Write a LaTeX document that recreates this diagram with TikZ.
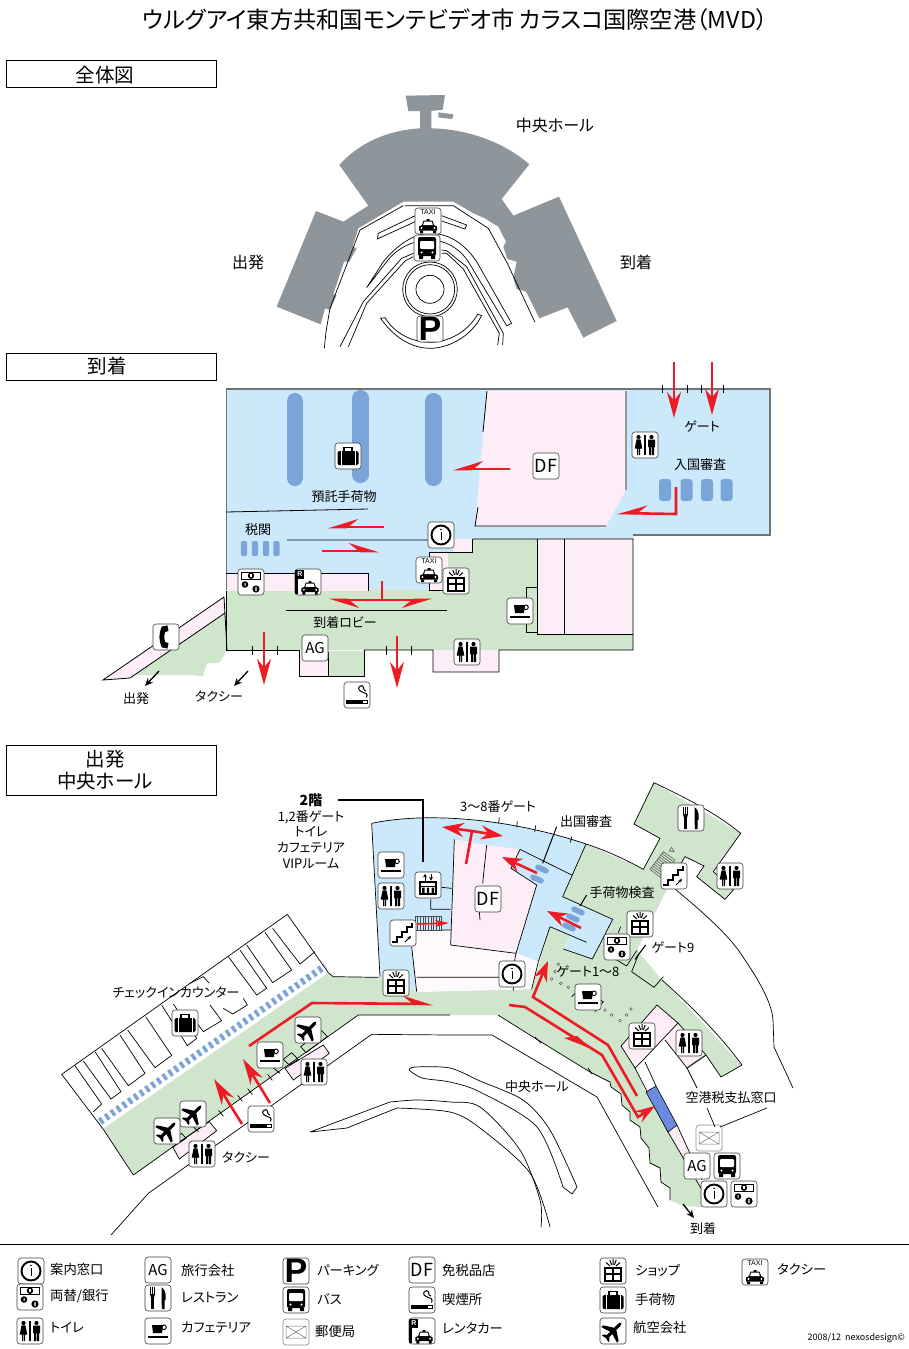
\documentclass[tikz,border=0pt]{standalone}
\usepackage{fontspec}
\setmainfont[RawFeature=+palt]{Noto Sans CJK JP}
\newfontfamily\heros{Liberation Sans}
\usetikzlibrary{arrows.meta,calc}
\definecolor{cblue}{HTML}{CCE9FB}
\definecolor{cgreen}{HTML}{CFE5CC}
\definecolor{cpink}{HTML}{FDEDF6}
\definecolor{cgray}{HTML}{8E959B}
\definecolor{cbar}{HTML}{7BA5D8}
\definecolor{cred}{HTML}{ED1C24}
\definecolor{cedge}{HTML}{6E7478}
\newcount\labn
\newcommand\lab[4][center]{\global\advance\labn by 1
  \node[anchor=#1,inner sep=0pt,align=center,font=\fontsize{#4}{#4}\selectfont] (lab\the\labn) at (#2,#3) {\labtext};}
\newcommand\labtext{}
\newcommand\tx[5][center]{\renewcommand\labtext{#5}\lab[#1]{#2}{#3}{#4}}
\newcommand\ic[3]{\pic at (#2,#3) {ic#1};}
\newcommand\carg{%
  \fill[black] (-9,7)--(-9,3)--(-6,1.5)--(-4.5,-3)--(-1.5,-3)--(-1.5,-4.5)--(1.5,-4.5)--(1.5,-3)--(4.5,-3)--(6,1.5)--(9,3)--(9,7)--cycle;
  \fill[white] (-3.8,-2)--(3.8,-2)--(4.8,1.5)--(-4.8,1.5)--cycle;
  \fill[black] (-8,7) rectangle (-5,9.5) (5,7) rectangle (8,9.5);
  \fill[white] (-6.5,4.5) circle (1.1) (6.5,4.5) circle (1.1);}
\newcommand\boxg{\draw[draw=black!75,line width=.6pt,rounded corners=3pt,fill=white] (-13,-13) rectangle (13,13);}
\tikzset{
  x=1pt,y=-1pt,
  plan/.style={line width=.8pt,draw=black,line join=miter},
  thinl/.style={line width=.7pt,draw=black},
  secbox/.style={draw=black,line width=.7pt,fill=white},
  redl/.style={draw=cred,line width=2.6pt,line join=miter},
  full/.style={-{Stealth[length=#1,width=14pt,inset=.32*#1]}},
  full/.default=26pt,
  halfa/.style={-{Stealth[length=26pt,width=16pt,inset=10pt,harpoon]}},
  halfb/.style={-{Stealth[length=26pt,width=16pt,inset=10pt,harpoon,swap]}},
  zoomed/.style n args={2}{shift={(#1,#2)},x=.33333pt,y=-.33333pt},
  icinfo/.pic={\boxg \draw[line width=1.9pt] (0,0) circle (9.5); \draw[line width=.8pt] (0,-3)--(0,5); \fill (0,-5.5) circle (.8);},
  icmoney/.pic={\boxg \draw[line width=.9pt] (-9.5,-10) rectangle (9.5,-2.5); \fill (0,-6.3) circle (3.2); \fill[white] (-.6,-8) rectangle (.6,-4.6);
    \fill (-6,2.5) circle (3.3) (5,7) circle (3.6); \fill[white] (-6.5,1) rectangle (-5.5,4) (4.4,5) rectangle (5.6,9);},
  ictoilet/.pic={\boxg \fill (-6.5,-8) circle (2.1) (6.5,-8) circle (2.1);
    \fill (-6.5,-5.7)--(-4.5,-5.5)--(-2.7,3.5)--(-5,3.5)--(-5,10)--(-6.2,10)--(-6.2,3.5)--(-6.8,3.5)--(-6.8,10)--(-8,10)--(-8,3.5)--(-10.3,3.5)--(-8.5,-5.5)--cycle;
    \fill (3,-5.5) rectangle (10,2) (4,2) rectangle (6.2,10) (6.8,2) rectangle (9,10);
    \draw[line width=1.3pt] (0,-10)--(0,10);},
  icAG/.pic={\boxg \node[inner sep=0pt,font=\fontsize{15}{15}\selectfont] (agt) at (0,0) {AG};},
  icDF/.pic={\boxg \node[inner sep=0pt,font=\fontsize{18}{18}\selectfont] (dft) at (0,0) {DF};},
  icP/.pic={\boxg \node[inner sep=0pt,font=\heros\bfseries\fontsize{34}{34}\selectfont] (pt) at (0,0) {P};},
  icbus/.pic={\boxg \fill[rounded corners=2pt] (-9,-11) rectangle (9,8); \fill[white,rounded corners=1pt] (-7,-7) rectangle (7,1);
    \fill (-8,8) rectangle (-4,11) (4,8) rectangle (8,11); \fill[white] (-5.5,4.5) circle (1.2) (5.5,4.5) circle (1.2);},
  ictaxi/.pic={\boxg \node[inner sep=0pt,font=\heros\fontsize{7}{7}\selectfont] (tt) at (0,-9) {TAXI}; \begin{scope}[shift={(0,2.5)}]\carg\end{scope}},
  icmail/.pic={\draw[draw=black!45,line width=.6pt,rounded corners=3pt,fill=white] (-13,-13) rectangle (13,13);
    \draw[draw=black!55,line width=.5pt] (-10,-6) rectangle (10,6) (-10,-6)--(0,0)--(10,-6) (-10,6)--(0,0)--(10,6);},
  icfork/.pic={\boxg \draw[line width=1pt] (-7.5,-11)--(-7.5,-3) (-5.5,-11)--(-5.5,-3) (-3.5,-11)--(-3.5,-3);
    \fill (-8,-4)--(-3,-4)--(-4.3,1)--(-6.7,1)--cycle; \fill (-6.7,0) rectangle (-4.3,11);
    \fill (3.5,-11) .. controls (8,-8) and (8,-2) .. (7.5,2) -- (6.5,2) -- (6.5,11) -- (3.8,11) -- cycle;},
  iccup/.pic={\boxg \fill (-6,-6)--(5,-6)--(4,2)--(-5,2)--cycle; \draw[line width=.9pt] (6,-3.7) circle (2.3); \draw[line width=2pt] (-10,5.5)--(10,5.5);},
  icgift/.pic={\boxg \draw[line width=1.2pt] (-8,-3) rectangle (8,10) (-8,3)--(8,3) (0,-3)--(0,10);
    \draw[line width=1pt] (-3,-5)--(-7,-8.5) (-1.3,-6)--(-3.2,-11) (0,-6.5)--(0,-12) (1.3,-6)--(3.2,-11) (3,-5)--(7,-8.5);},
  icluggage/.pic={\boxg \fill[rounded corners=1.5pt] (-10.5,-5) rectangle (10.5,9); \draw[line width=1.4pt] (-4,-5)--(-4,-8.5)--(4,-8.5)--(4,-5);
    \draw[white,line width=.8pt] (-7,-5)--(-7,9) (7,-5)--(7,9);},
  icplane/.pic={\boxg \begin{scope}[rotate=-45]
    \fill (0,-12)--(1.6,-9)--(1.6,-3)--(11,3)--(11,5.5)--(1.6,2.5)--(1.6,7)--(4.5,9.5)--(4.5,11)--(0,10)--(-4.5,11)--(-4.5,9.5)--(-1.6,7)--(-1.6,2.5)--(-11,5.5)--(-11,3)--(-1.6,-3)--(-1.6,-9)--cycle;\end{scope}},
  icsmoke/.pic={\boxg \fill (-11,5) rectangle (5,8.5); \draw[line width=.6pt] (5.5,5) rectangle (10.5,8.5);
    \draw[line width=1pt,rounded corners=1.5pt] (9.5,2.5)--(10.5,-1)--(5,-3)--(1,-5.5)--(3,-9.5)--(7,-9)--(6,-5.5)--(9,-4);},
  icrent/.pic={\boxg \fill (-13,-12) rectangle (-10.5,12); \fill (-12,-12) rectangle (-4,-3); \node[inner sep=0pt,text=white,font=\heros\bfseries\fontsize{7}{7}\selectfont] (rt) at (-8,-7.5) {R};
    \begin{scope}[shift={(2,3.5)},scale=.95]\carg\end{scope}},
  icstairs/.pic={\boxg \draw[line width=2pt] (-11,9)--(-6,9)--(-6,4)--(-1,4)--(-1,-1)--(4,-1)--(4,-6)--(9,-6)--(9,-10);
    \draw[line width=.9pt,-{Stealth[length=3.5pt,width=3.5pt]}] (2,9)--(8,3);},
  icphone/.pic={\boxg \fill (-4,-10.5)--(1.5,-11.5)--(2.5,-6)--(-1,-5) .. controls (-2,-1.5) and (-2,1.5) .. (-1,5)--(2.5,6)--(1.5,11.5)--(-4,10.5) .. controls (-7.5,3.5) and (-7.5,-3.5) .. cycle;},
  icelev/.pic={\boxg \draw[line width=1pt,-{Stealth[length=3.5pt,width=4pt]}] (-3,-4.5)--(-3,-11); \draw[line width=1pt,-{Stealth[length=3.5pt,width=4pt]}] (3,-11)--(3,-4.5);
    \draw[line width=1.2pt] (-8,-3) rectangle (8,9); \draw[line width=1pt] (-8,1)--(8,1); \fill (-6,2.5) rectangle (-3.5,8) (-1.2,2.5) rectangle (1.2,8) (3.5,2.5) rectangle (6,8);},
}
\begin{document}
\begin{tikzpicture}[x=1pt,y=-1pt]
\useasboundingbox (0,0) rectangle (909,1349);
\fill[white] (0,0) rectangle (909,1349);
% title
\tx{455}{20}{23.2}{ウルグアイ東方共和国モンテビデオ市 カラスコ国際空港（MVD）}
\draw[secbox] (6,60) rectangle (216,87); \tx{105}{75}{19.5}{全体図}
\draw[secbox] (6,353) rectangle (216,380); \tx{107}{366}{19.5}{到着}
\draw[secbox] (6,745) rectangle (216,795); \tx{105}{770}{19.5}{出発\\[3pt]中央ホール}

% ------ overview
\begin{scope}[zoomed={220}{85}]
\fill[cgray] (557,32)--(675,30)--(668,74)--(634,78)--(634,130)
 .. controls (740,132) and (850,170) .. (928,238)
 --(845,342)--(880,392)--(1017,335)--(1190,708)--(1090,758)--(1043,667)--(958,700)--(918,620)--(890,612)--(880,580)--(890,530)--(862,522)--(850,485)--(858,470)--(835,425)--(810,410)--(795,400)--(760,385)--(735,370)--(700,350)--(550,350)--(415,430)--(398,485)--(410,490)--(388,530)--(372,530)--(340,628)--(350,630)--(330,675)--(315,670)--(302,718)--(170,665)--(288,378)--(370,410)--(445,362)--(358,240)
 .. controls (420,170) and (510,135) .. (600,130)--(600,78)--(565,78)--cycle;
\fill[cgray] (655,82)--(700,88)--(697,102)--(655,97)--cycle;
\draw[thinl] (555,362)--(700,362)--(805,430)--(862,535)--(945,712);
\draw[thinl] (550,362)--(420,435)--(330,670)--(318,740)--(313,790);
\draw[thinl] (590,390)--(475,445)--(472,462)--(590,408);
\draw[thinl] (665,392)--(740,420)--(735,432)--(665,408);
\draw[thinl] (440,608)--(490,530)  .. controls (540,470) and (590,445) .. (630,445) .. controls (680,445) and (730,470) .. (770,530)--(875,715)--(860,722)--(745,530) .. controls (715,485) and (670,465) .. (630,465) .. controls (580,465) and (530,490) .. (500,530)--cycle;
\draw[thinl] (580,505)--(545,520)--(430,650)--(360,785);
\draw[thinl] (580,515)--(555,528)--(440,655)--(385,785);
\draw[thinl] (665,495)--(680,497)--(740,545)--(850,745)--(848,780);
\draw[thinl] (665,505)--(680,505)--(730,552)--(838,745)--(833,780);
\draw[thinl] (630,613) circle (82) (630,613) circle (74) (630,613) circle (42);
\draw[thinl] (482,700) .. controls (530,770) and (590,790) .. (630,790) .. controls (680,790) and (750,760) .. (785,692)--(773,688) .. controls (740,745) and (680,772) .. (630,772) .. controls (590,772) and (530,755) .. (495,698)--cycle;
\end{scope}
\ic{taxi}{428}{221}\ic{bus}{427}{248}\ic{P}{430}{329}
\tx{555}{125}{16}{中央ホール}\tx{248}{262}{16}{出発}\tx{636}{262}{16}{到着}

% ------ arrivals
\fill[cblue] (226,389)--(770,389)--(770,535)--(633,536)--(633,539)--(473,539)--(473,600)--(226,600)--cycle;
\fill[cpink] (487,391)--(626,391)--(626,490)--(606,526)--(475,526)--cycle;
\fill[cpink] (226,573) rectangle (368,591);
\fill[cgreen] (226,591)--(368,591)--(368,590)--(429,590)--(429,552)--(472,552)--(472,539)--(633,539)--(633,650)--(226,650)--cycle;
\fill[cgreen] (224,613)--(133,675)--(189,675)--(203,676)--(207,663)--(219,663)--(227,651)--(227,610)--cycle;
\fill[cpink] (224,597)--(103,680)--(130,678)--(225,613)--cycle;
\fill[cpink] (453,539) rectangle (472,552);
\fill[cpink] (429,552) rectangle (448,590);
\fill[cpink] (537,539) rectangle (633,634);
\fill[cpink] (299,651) rectangle (328,676);
\fill[cgreen] (328,651) rectangle (364,676);
\fill[cpink] (433,650) rectangle (499,672);
\fill[cgreen] (526,587) rectangle (537,632);
\draw[draw=cedge,line width=1.1pt] (226,389)--(770,389)--(770,535)--(633,535);
\draw[draw=cedge,line width=.9pt] (226,389)--(226,590);
\draw[plan] (487,391)--(483,432) (478,507)--(475,526)--(606,526) (626,391)--(626,490);
\draw[plan] (226,512)--(368,509) (287,540)--(428,540) (473,539)--(633,539)--(633,650)--(499,650)--(499,672)--(433,672)--(433,650)--(364,650);
\draw[plan] (286,610)--(447,610);
\draw[plan] (226,573)--(368,573)--(368,591) (226,591)--(226,650)--(299,650)--(299,676)--(364,676)--(364,650);
\draw[plan] (328,652)--(328,676);
\draw[plan] (429,552)--(472,552)--(472,539) (429,552)--(429,590)--(448,590);
\draw[plan] (537,539)--(537,634)--(633,634) (564,539)--(564,634);
\draw[plan] (537,587)--(526,587)--(526,632)--(537,632);
\draw[plan] (224,597)--(103,680)--(130,678)--(225,613) (224,597)--(227,650) ;
\draw[plan] (252,646)--(252,655) (277,646)--(277,655) (386,646)--(386,655) (411,646)--(411,655);
\draw[plan] (662,385)--(662,393) (687,385)--(687,393) (701,385)--(701,393) (723,385)--(723,393);
\foreach \xa/\ya/\yb in {295/393/486,360.5/390/483,433.5/393/486}
  \draw[cbar,line width=16.5pt,line cap=round] (\xa,\ya+8.2)--(\xa,\yb-8.2);
\foreach \xa in {244,255,266,276.5} \fill[cbar,rounded corners=2pt] (\xa-3.2,541) rectangle (\xa+3.2,556);
\foreach \xa in {665,686.5,707,726.5} \fill[cbar,rounded corners=3pt] (\xa-6,479) rectangle (\xa+6,501);
% red arrows arrivals
\draw[redl,full] (674,362)--(674,418);
\draw[redl,full] (712,362)--(712,415);
\draw[redl,halfb] (676,487)--(676,514)--(617,513);
\draw[redl,halfb] (510,469)--(453,469);
\draw[redl,halfb] (384,527)--(328,527);
\draw[redl,halfa] (322,551)--(379,551);
\draw[redl] (382,581)--(382,600);
\draw[redl,halfa] (382,600)--(329,600);
\draw[redl,halfb] (382,600)--(432,600);
\draw[redl,full] (264,632)--(264,685);
\draw[redl,full] (397,636)--(397,688);
\draw[line width=1.3pt,-{Stealth[length=8pt,width=7pt]}] (159,671)--(145,686);
\draw[line width=1.3pt,-{Stealth[length=8pt,width=7pt]}] (248,671)--(234,686);
\ic{luggage}{348}{456}\ic{info}{441}{535}\ic{taxi}{429}{570}\ic{gift}{456}{581}\ic{money}{251}{582}\ic{rent}{308}{582}
\ic{phone}{166}{637}\ic{AG}{315}{648}\ic{toilet}{467}{652}\ic{smoke}{357}{695}\ic{DF}{546}{466}\ic{toilet}{645}{445}\ic{cup}{520}{611}
\tx{702}{426}{13}{ゲート}\tx{700}{465}{13}{入国審査}\tx{344}{497}{13}{預託手荷物}\tx{258}{530}{13}{税関}\tx{345}{623}{13}{到着ロビー}\tx{136}{699}{13}{出発}\tx{219}{696}{13}{タクシー}

% ------ departures
\fill[cgreen] (133,1175)--(103,1129)--(328,973)--(333,977)--(380,977)--(417,992)--(532,989)--(550,927)--(570,935)--(563,949)--(592,959)--(613,919)--(563,897)--(586,844)
  --(643,869)--(660,838)--(634,824)--(654,783)--(741,833)--(713,872)--(733,890)--(725,899)--(697,877)--(704,866)--(685,857)--(668,887)--(637,950)--(662,980)--(742,1065)--(721,1077)--(706,1055)--(687,1068)--(665,1040)--(678,1023)--(657,1005)--(621,1046)--(635,1068)--(646,1092)--(668,1132)--(702,1190)--(702,1207)--(683,1206)--(670,1200)--(670,1188)--(661,1182)--(660,1168)--(650,1163)--(649,1148)--(641,1138)--(640,1127)--(630,1120)--(630,1112)--(622,1105)--(621,1094)--(611,1087)--(610,1082)--(590,1072)--(538,1040)--(498,1015)--(358,1015)--cycle;
\fill[cpink] (657,1005)--(678,1023)--(645,1058)--(635,1068)--(621,1046)--cycle;
\fill[cpink] (665,1040)--(678,1023)--(706,1055)--(687,1068)--cycle;
\fill[cpink] (668,1132)--(677,1125)--(702,1187)--(702,1190)--cycle;
\fill[cpink] (173,1148)--(209,1122)--(217,1131)--(179,1158)--cycle;
\fill[cpink] (285,1068)--(323,1045)--(329,1053)--(293,1080)--cycle;
\begin{scope}[zoomed={360}{780}]
\fill[cblue] (35,130) .. controls (200,95) and (450,115) .. (678,192)--(608,350)--(758,418)--(697,537)--(610,507)--(630,465)--(570,440)--(535,545)--(468,520)--(272,495)--(270,450)--(165,450)--(155,500)--(170,635)--(60,590)--cycle;
\fill[cpink] (283,178)--(380,195)--(480,208)--(453,265)--(530,315)--(468,520)--(272,495)--cycle;
\fill[cpink!35] (165,450)--(270,450)--(272,495)--(468,520)--(535,545)--(515,628)--(170,635)--(155,500)--cycle;
\draw[thinl] (35,130)--(60,590);
\draw[thinl] (35,130) .. controls (200,95) and (450,115) .. (678,192) .. controls (740,212) and (800,240) .. (850,268);
\draw[thinl] (155,500)--(170,635) (170,592)--(420,592);
\draw[thinl] (283,178)--(272,495)--(468,520)--(530,315)--(453,265)--(480,208)--(635,285);
\draw[thinl] (380,195)--(368,310) (358,395)--(360,420);
\draw[thinl] (245,322)--(275,325) (212,358)--(212,388)--(272,388) (245,450)--(272,450);
\draw[thinl] (468,520)--(463,545) (460,620)--(460,632);
\draw[thinl] (678,192)--(608,350)--(758,418)--(697,537)--(610,507);
\draw[thinl] (570,440)--(535,545)--(515,628) (570,440)--(680,487);
\draw[thinl] (782,440)--(775,458);
\draw[thinl] (770,540)--(800,558)--(830,512) (835,525)--(815,575)--(882,622)--(910,590);
\draw[line width=1.1pt] (857,495)--(825,538);
\draw[thinl] (850,268)--(900,175)--(822,132)--(882,8) .. controls (970,50) and (1070,100) .. (1142,160)--(1060,275)--(1120,330)--(1095,358)--(1010,290)--(1032,258)--(975,230)--(950,272);
\draw[thinl] (418,113)--(416,130) (472,124)--(470,142) (527,136)--(524,156) (635,170)--(631,188);
% stairs hatch
\draw[draw=black!70,line width=.5pt] (165,410) rectangle (245,450);
\foreach \xa in {173,181,...,241} \draw[draw=black!70,line width=.5pt] (\xa,410)--(\xa,450);
\coordinate (ha) at (870,268); \coordinate (hb) at (910,215); \coordinate (hc) at (945,240); \coordinate (hd) at (905,295);
\draw[draw=black!70,line width=.5pt] (ha)--(hb)--(hc)--(hd)--cycle;
\foreach \t in {.1,.2,...,.95} \draw[draw=black!70,line width=.5pt] ($(ha)!\t!(hb)$)--($(hd)!\t!(hc)$);
\draw[draw=black!70,line width=.5pt] (928,213)--(935,202)--(942,215)--cycle;
% cup backdrop
\draw[thinl] (635,650)--(660,625)--(730,665)--(705,695);
\foreach \xa/\ya in {595/553,585/575,575/597,602/610,625/622,735/690,755/705,780/722,800/705,813/687}
  \draw[draw=black!65,line width=.5pt,fill=white] (\xa,\ya) circle (4);
% leaders
\draw[line width=1pt] (590,140)--(548,250) (680,345)--(660,378);
\end{scope}
% check-in block
\begin{scope}[zoomed={50}{900}]
\draw[thinl] (160,688)--(35,523)--(712,43)--(835,218)--(850,230)--(985,232);
\draw[cbar,line width=7pt,dash pattern=on 3.4pt off 3.6pt] (150,665)--(825,198);
\draw[thinl] (250,825)--(160,688) (250,825)--(925,345)--(1200,345);
\foreach \xa/\ya in {660/532,600/575,570/595,513/640} \draw[thinl] (\xa-7,\ya-9)--(\xa+7,\ya+9);
\draw[thinl] (75,497)--(155,612)--(130,635);
\draw[thinl] (100,483)--(183,597)--(213,575)--(135,455);
\draw[thinl] (155,445)--(235,557)--(285,520)--(210,405);
\draw[thinl] (233,390)--(315,503)--(365,466)--(287,350);
\draw[thinl] (335,315)--(412,437)--(440,415)--(370,312);
\draw[thinl] (480,315)--(515,362)--(460,395)--(443,372);
\draw[thinl] (420,250)--(460,230)--(478,250);
\draw[thinl] (520,325)--(548,342)--(592,315)--(580,295);
\draw[thinl] (535,170)--(620,285)--(650,265)--(570,150);
\draw[thinl] (590,135)--(668,248)--(725,210)--(645,97);
\draw[thinl] (668,85)--(750,192)--(795,155);
\draw[thinl] (368,740)--(478,665)--(500,692)--(388,777)--cycle;
\draw[thinl] (705,505)--(820,435)--(838,460)--(730,540)--cycle;
\draw[thinl] (752,440)--(815,392)--(832,410)--(768,458)--cycle;
\draw[thinl] (700,478)--(725,458)--(745,478)--(718,495)--cycle;
\draw[thinl] (668,502)--(690,520);
\draw[thinl] (355,728)--(395,700)--(408,715)--(368,742);
\draw[thinl] (430,680)--(445,695);
\draw[thinl] (1200,405)--(965,403)--(295,880)--(183,1005);
\end{scope}
% lower hall edges (absolute)
\draw[thinl] (498,1015)--(538,1040)--(590,1072)--(610,1082)--(611,1087)--(621,1094)--(622,1105)--(630,1112)--(630,1120)--(640,1127)--(641,1138)--(649,1148)--(650,1163)--(660,1168)--(661,1182)--(670,1188)--(670,1200);
\draw[thinl] (450,1035)--(492,1035)--(597,1097)--(658,1207);
\draw[thinl] (535,1037)--(541,1043) (588,1068)--(592,1074);
\draw[thinl] (621,1046)--(657,1005)--(678,1023)--(645,1058)--(635,1068)--(621,1046);
\draw[thinl] (665,1040)--(687,1068) (678,1023)--(706,1055);
\draw[line width=1.3pt,draw=black!80] (687,1068)--(706,1055);
\draw[thinl] (662,980) .. controls (690,1005) and (720,1035) .. (742,1065)--(721,1077)--(706,1055);
\draw[thinl] (645,1062)--(656,1086) (677,1125)--(702,1180) (635,1068)--(668,1132)--(702,1190);
\draw[thinl] (687,1068)--(697,1088);
\draw[thinl] (675,889) .. controls (700,910) and (730,935) .. (745,960) .. controls (762,985) and (772,1005) .. (773,1020)--(774,1047)--(793,1088);
\fill[cbar!85!blue,draw=black,line width=.6pt] (646,1092)--(656,1086)--(677,1125)--(668,1132)--cycle;
% road islands
\draw[thinl] plot[smooth] coordinates {(409,1070)(415,1067)(450,1068)(480,1081)(523,1100)(550,1130)(577,1187)};
\draw[thinl] plot[smooth] coordinates {(409,1070)(422,1078)(450,1082)(480,1092)(537,1127)(563,1187)};
\draw[thinl] (563,1187)--(572,1194)--(577,1187);
\draw[thinl] plot[smooth] coordinates {(390,1102)(417,1100)(450,1102)(480,1107)(520,1150)(540,1200)(541,1227)};
\draw[thinl] (310,1132)--(347,1128)--(397,1108) (310,1132)--(390,1102);
\draw[thinl] plot[smooth] coordinates {(397,1108)(450,1112)(480,1128)(530,1173)(550,1227)};
% blue pills
\foreach \xa/\ya in {542/869,537/879,578/911,573/918,569/927}
  \draw[cbar,line width=5.5pt,line cap=round] (\xa-4,\ya-1.8)--(\xa+4,\ya+1.8);
% red arrows departures
\draw[redl,full] (242,1124)--(214,1079);
\draw[redl,full] (270,1103)--(243,1059);
\draw[redl,halfa] (249,1046)--(312,1003)--(433,1004);
\draw[redl] (466,864)--(472,831);
\draw[redl,full=22pt] (472,831)--(442,827);
\draw[redl,full=22pt] (472,831)--(503,836);
\draw[redl,full=20pt] (537,873)--(502,857);
\draw[redl,full=20pt] (581,928)--(547,911);
\draw[cred,line width=1.6pt,-{Stealth[length=14pt,width=7pt,inset=4pt]}] (417,924)--(449,923);
\draw[redl,full=20pt] (637,1096)--(608,1045)--(533,997)--(548,961);
\draw[redl,-{Stealth[length=20pt,width=13pt,inset=7pt]}] (509,1005)--(525,1007)--(602,1055)--(638,1117)--(655,1106);
\fill[cred] (564,1038)--(592,1049)--(577,1036)--cycle;
\foreach \n/\xa/\ya in {cup/391/865,toilet/391/896,elev/428/885,stairs/403/933,gift/396/983,DF/488/899,info/512/974,fork/691/818,stairs/674/876,toilet/730/876,gift/640/924,money/617/947,cup/588/997,gift/642/1036,toilet/689/1043,mail/709/1138,AG/697/1166,bus/727/1166,info/714/1194,money/744/1194,luggage/185/1023,plane/308/1030,cup/270/1055,toilet/314/1072,smoke/261/1119,plane/193/1114,plane/167/1131,toilet/202/1154}
 {\pic at (\xa,\ya) {ic\n};}
\draw[line width=1.2pt] (338,800)--(423,800)--(423,862);
\draw[thinl] (707,1108)--(715,1127) (767,1108)--(720,1127);
\draw[line width=1.3pt,-{Stealth[length=8pt,width=7pt]}] (683,1204)--(694,1218);
\tx{311}{800}{14}{\textbf{2階}}\tx{311}{817}{13}{1,2番ゲート}\tx{311}{832}{13}{トイレ}\tx{311}{848}{13}{カフェテリア}\tx{311}{864}{13}{VIPルーム}
\tx{498}{807}{13}{3〜8番ゲート}\tx{586}{822}{13}{出国審査}\tx{622}{893}{13}{手荷物検査}\tx{673}{947}{13}{ゲート9}\tx{588}{971}{13}{ゲート1〜8}
\tx{537}{1087}{13}{中央ホール}\tx{246}{1157}{13}{タクシー}\tx{176}{993}{13}{チェックインカウンター}\tx{703}{1229}{13}{到着}\tx{731}{1098}{13}{空港税支払窓口}

% ------ legend
\draw[line width=.8pt] (0,1244.5)--(909,1244.5);
\foreach \n/\xa/\ya in {info/31/1271,money/30/1297,toilet/30/1331,AG/158/1270,fork/158/1298,cup/158/1331,P/296/1271,bus/296/1300,mail/296/1332,DF/422/1270,smoke/422/1300,rent/422/1331,gift/613/1271,luggage/613/1300,plane/613/1331,taxi/755/1272}
 {\pic at (\xa,\ya) {ic\n};}
\tx[west]{50}{1269}{13.3}{案内窓口}\tx[west]{50}{1296}{13.3}{両替/銀行}\tx[west]{50}{1327}{13.3}{トイレ}
\tx[west]{181}{1270}{13.3}{旅行会社}\tx[west]{181}{1298}{13.3}{レストラン}\tx[west]{181}{1328}{13.3}{カフェテリア}
\tx[west]{317}{1270}{13.3}{パーキング}\tx[west]{317}{1299}{13.3}{バス}\tx[west]{315}{1331}{13.3}{郵便局}
\tx[west]{442}{1270}{13.3}{免税品店}\tx[west]{442}{1299}{13.3}{喫煙所}\tx[west]{442}{1328}{13.3}{レンタカー}
\tx[west]{635}{1270}{13.3}{ショップ}\tx[west]{635}{1299}{13.3}{手荷物}\tx[west]{633}{1327}{13.3}{航空会社}\tx[west]{777}{1269}{13.3}{タクシー}
\tx[east]{905}{1338}{9}{2008/12\ \ nexosdesign©}
\end{tikzpicture}
\end{document}
